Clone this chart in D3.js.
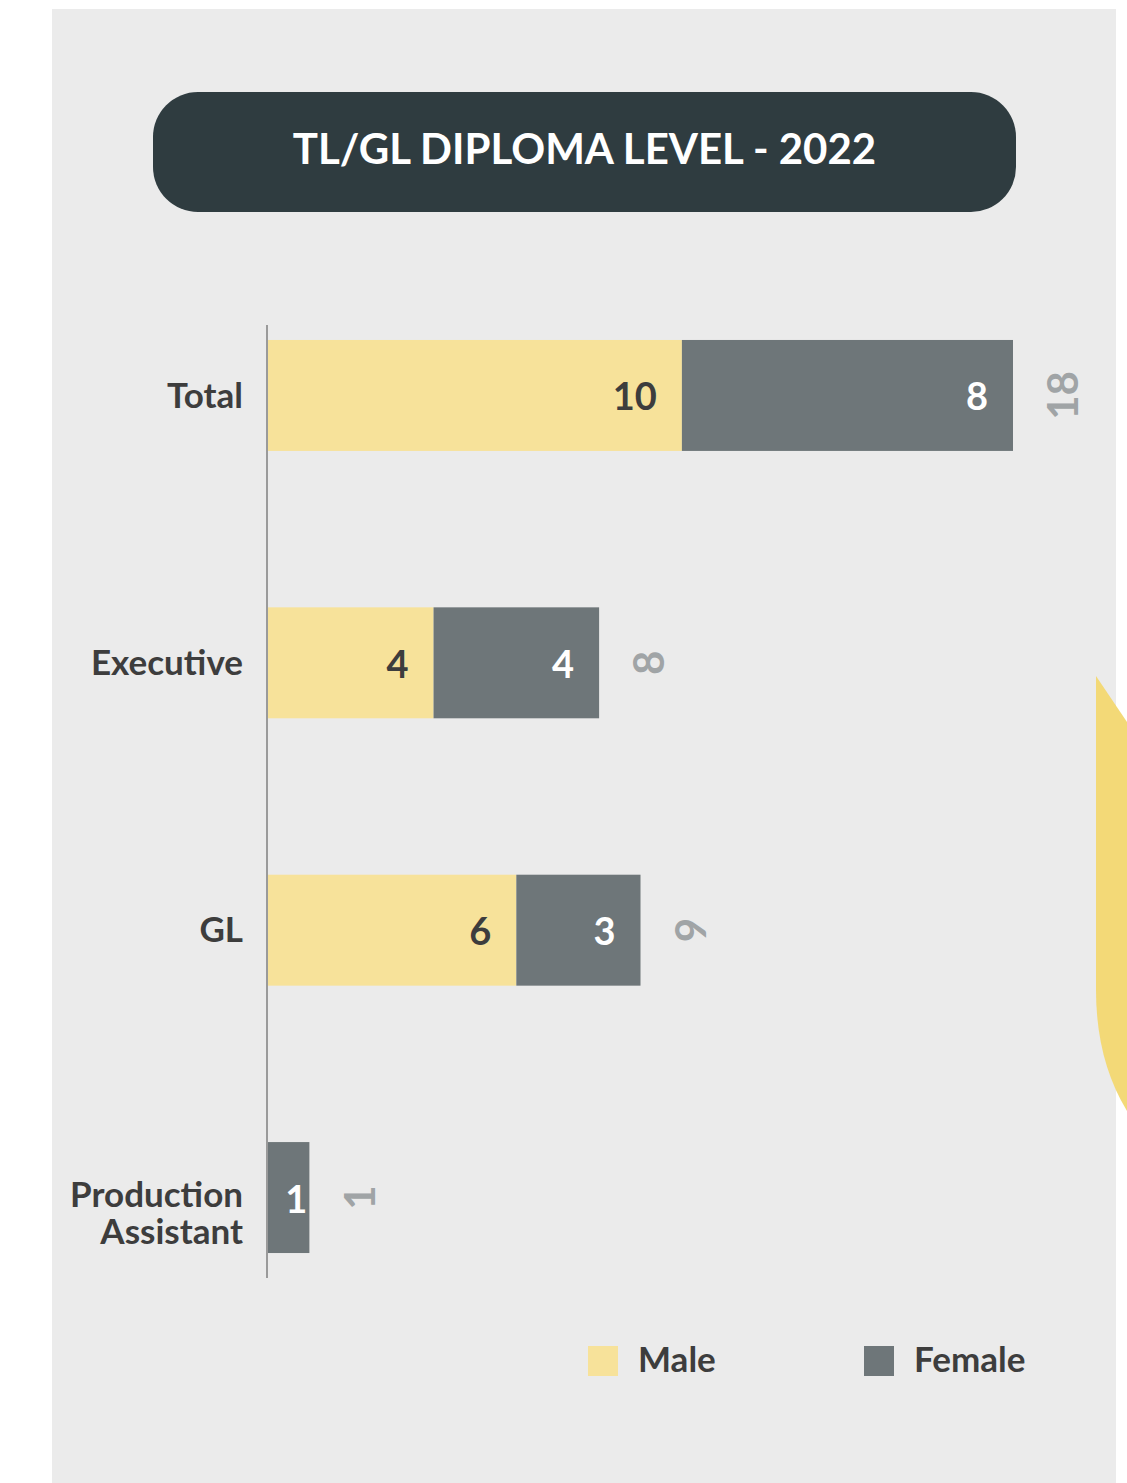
<!DOCTYPE html>
<html>
<head>
<meta charset="utf-8">
<script src="https://cdn.jsdelivr.net/npm/d3@7"></script>
<style>
  html, body { margin: 0; padding: 0; background: #ffffff; }
  svg { display: block; }
</style>
</head>
<body>
<svg id="chart" width="1127" height="1483"></svg>
<script>
// ---- data ----
const title = "TL/GL DIPLOMA LEVEL - 2022";
const categories = ["Total", "Executive", "GL", "Production Assistant"];
const maleValues = [10, 4, 6, 0];
const femaleValues = [8, 4, 3, 1];
const seriesNames = ["Male", "Female"];

// ---- styles ----
const FONT = "Lato, 'Noto Sans', sans-serif";
const COL_MALE = "#f7e29a";
const COL_FEMALE = "#6e7679";
const COL_TEXT = "#3d3d3d";
const COL_TOTAL = "#a0a4a6";

const svg = d3.select("#chart");

// background panel
svg.append("rect").attr("x", 52).attr("y", 9).attr("width", 1064).attr("height", 1474).attr("fill", "#ebebeb");

// decorative yellow shape on the right
svg.append("path")
  .attr("d", "M1096,676 L1127,722 L1127,1111 Q1096,1060 1096,990 Z")
  .attr("fill", "#f3d977");

// title box
svg.append("rect").attr("x", 153).attr("y", 92).attr("width", 863).attr("height", 120)
  .attr("rx", 45).attr("ry", 45).attr("fill", "#2f3c40");
svg.append("text").attr("x", 584.5).attr("y", 164)
  .attr("text-anchor", "middle").attr("fill", "#ffffff")
  .attr("font-family", FONT).attr("font-weight", 700).attr("font-size", 42)
  .text(title);

// scales
const x = d3.scaleLinear().domain([0, 18]).range([268, 1013]);
const y = d3.scaleBand().domain(categories).range([325, 1268]).paddingInner(0.585).paddingOuter(0.056);

const rows = categories.map((c, i) => ({ cat: c, male: maleValues[i], female: femaleValues[i], total: maleValues[i] + femaleValues[i] }));

// bars
const g = svg.append("g");
rows.forEach(r => {
  const segs = [
    { v0: 0, v1: r.male, color: COL_MALE, label: r.male, tcol: COL_TEXT },
    { v0: r.male, v1: r.male + r.female, color: COL_FEMALE, label: r.female, tcol: "#ffffff" }
  ];
  segs.forEach(s => {
    if (s.v1 - s.v0 <= 0) return;
    const x0 = x(s.v0), x1 = x(s.v1);
    g.append("rect").attr("x", x0).attr("y", y(r.cat)).attr("width", x1 - x0).attr("height", y.bandwidth()).attr("fill", s.color);
    const w = x1 - x0;
    const pad = w > 80 ? 25 : 2;
    g.append("text").attr("x", x1 - pad).attr("y", y(r.cat) + y.bandwidth() / 2 + 15)
      .attr("text-anchor", "end").attr("fill", s.tcol)
      .attr("font-family", FONT).attr("font-weight", 700).attr("font-size", 38)
      .text(s.label);
  });
  // rotated total label
  const cx = x(r.total) + 50, cy = y(r.cat) + y.bandwidth() / 2;
  g.append("text").attr("transform", `translate(${cx},${cy}) rotate(-90)`)
    .attr("text-anchor", "middle").attr("dy", "0.36em")
    .attr("fill", COL_TOTAL).attr("font-family", FONT).attr("font-weight", 700).attr("font-size", 42)
    .text(r.total);
});

// y axis
const yAxis = d3.axisLeft(y).tickSize(0).tickPadding(24);
const ax = svg.append("g").attr("transform", "translate(267,0)").call(yAxis);
ax.select(".domain").remove();
svg.append("line").attr("x1", 267).attr("x2", 267).attr("y1", 325).attr("y2", 1278)
  .attr("stroke", "#9a9a9a").attr("stroke-width", 2);
ax.selectAll(".tick text")
  .attr("fill", COL_TEXT).attr("font-family", FONT).attr("font-weight", 700).attr("font-size", 35)
  .each(function(d) {
    const t = d3.select(this);
    const words = d.split(" ");
    if (words.length > 1) {
      t.text(null);
      words.forEach((w, i) => {
        t.append("tspan").attr("x", -24).attr("dy", i === 0 ? "0.28em" : "1.06em").text(w);
      });
    } else {
      t.attr("dy", "0.35em");
    }
  });

// legend
const legend = svg.append("g");
const legendX = [588, 864];
const legendColors = [COL_MALE, COL_FEMALE];
seriesNames.forEach((n, i) => {
  legend.append("rect").attr("x", legendX[i]).attr("y", 1346).attr("width", 30).attr("height", 30).attr("fill", legendColors[i]);
  legend.append("text").attr("x", legendX[i] + 50).attr("y", 1372)
    .attr("fill", COL_TEXT).attr("font-family", FONT).attr("font-weight", 700).attr("font-size", 35)
    .text(n);
});
</script>
</body>
</html>
